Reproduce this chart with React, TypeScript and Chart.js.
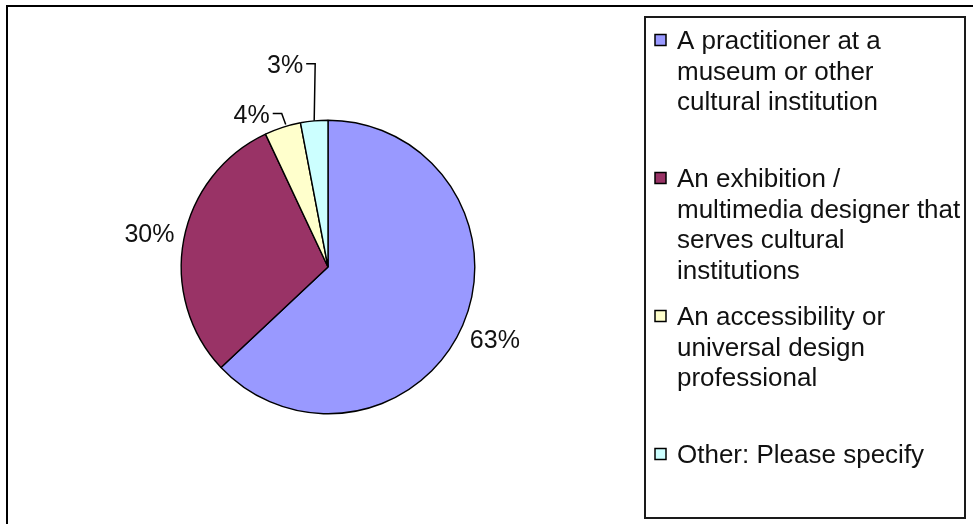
import React, { useEffect, useRef } from "react";
import { Chart, registerables } from "chart.js";

Chart.register(...registerables);

// ---- data ----
const categories: string[][] = [
  ["A practitioner at a", "museum or other", "cultural institution"],
  ["An exhibition /", "multimedia designer that", "serves cultural", "institutions"],
  ["An accessibility or", "universal design", "professional"],
  ["Other: Please specify"],
];
const values: number[] = [63, 30, 4, 3];
const colors: string[] = ["#9999FF", "#993366", "#FFFFCC", "#CCFFFF"];

const W = 973;
const H = 524;
const FONT = "'Liberation Sans', Arial, sans-serif";

const overlay = {
  id: "excelOverlay",
  afterDraw(chart: any) {
    const ctx: CanvasRenderingContext2D = chart.ctx;
    ctx.save();

    // outer frame
    ctx.strokeStyle = "#000";
    ctx.lineWidth = 2;
    ctx.strokeRect(7, 6, W + 20, H + 20);

    // legend box
    ctx.strokeStyle = "#1a1a1a";
    ctx.lineWidth = 2;
    ctx.strokeRect(645, 17, 320, 501);

    // legend entries
    const labels = chart.data.labels as string[][];
    const bg = chart.data.datasets[0].backgroundColor as string[];
    ctx.font = `26px ${FONT}`;
    ctx.textAlign = "left";
    ctx.textBaseline = "alphabetic";
    labels.forEach((lines, i) => {
      const y0 = 40 + i * 138;
      ctx.fillStyle = bg[i];
      ctx.fillRect(655, y0 - 5.5, 11, 11);
      ctx.strokeStyle = "#000";
      ctx.lineWidth = 1.5;
      ctx.strokeRect(655, y0 - 5.5, 11, 11);
      ctx.fillStyle = "#111";
      lines.forEach((ln, j) => ctx.fillText(ln, 677, y0 + 9 + j * 30.5));
    });

    // percentage labels
    const meta = chart.getDatasetMeta(0);
    const data = chart.data.datasets[0].data as number[];
    const total = data.reduce((a, b) => a + b, 0);
    const elbows: Record<number, [number, number]> = { 2: [-4, -11], 3: [1, -57] };
    ctx.font = `25px ${FONT}`;
    meta.data.forEach((arc: any, i: number) => {
      const p = arc.getProps(["x", "y", "startAngle", "endAngle", "outerRadius"], true);
      const mid = (p.startAngle + p.endAngle) / 2;
      const dx = Math.cos(mid);
      const dy = Math.sin(mid);
      const txt = `${Math.round((data[i] / total) * 100)}%`;
      ctx.fillStyle = "#111";
      if (data[i] / total >= 0.06) {
        const cx = p.x + dx * (p.outerRadius + 35);
        const cy = p.y + dy * (p.outerRadius + 35);
        ctx.textAlign = "center";
        ctx.fillText(txt, cx, cy + 9);
      } else {
        const e = elbows[i] || [0, -20];
        const r0 = p.outerRadius + (i === 2 ? 3 : 0);
        const x0 = p.x + dx * r0 + (i === 2 ? 4 : 0);
        const y0 = p.y + dy * r0;
        const x1 = x0 + e[0];
        const y1 = y0 + e[1];
        const x2 = x1 - 9;
        ctx.strokeStyle = "#000";
        ctx.lineWidth = 1.5;
        ctx.beginPath();
        ctx.moveTo(x0, y0);
        ctx.lineTo(x1, y1);
        ctx.lineTo(x2, y1);
        ctx.stroke();
        ctx.textAlign = "right";
        ctx.fillText(txt, x2 - 3, y1 + 9);
      }
    });

    ctx.restore();
  },
};

export default function App() {
  const ref = useRef<HTMLCanvasElement | null>(null);

  useEffect(() => {
    document.body.style.margin = "0";
    const canvas = ref.current;
    if (!canvas) return;
    const chart = new Chart(canvas, {
      type: "pie",
      data: {
        labels: categories as any,
        datasets: [
          {
            data: values,
            backgroundColor: colors,
            borderColor: "#000",
            borderWidth: 1.4,
          },
        ],
      },
      options: {
        responsive: false,
        animation: false,
        devicePixelRatio: 1,
        layout: {
          padding: { left: 180.5, right: 497.5, top: 119.5, bottom: 109.5 },
        },
        plugins: {
          legend: { display: false },
          tooltip: { enabled: false },
        },
      },
      plugins: [overlay],
    });
    return () => chart.destroy();
  }, []);

  return (
    <div style={{ width: W, height: H, background: "#fff" }}>
      <canvas ref={ref} width={W} height={H} style={{ display: "block" }} />
    </div>
  );
}
